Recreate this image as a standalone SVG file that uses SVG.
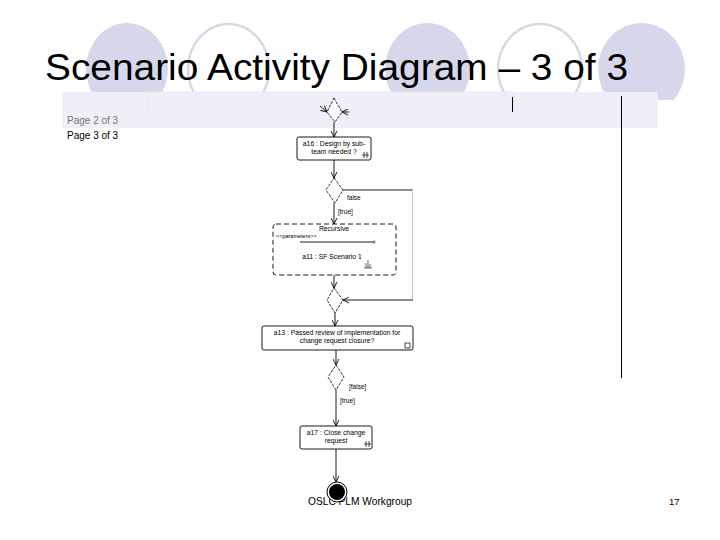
<svg xmlns="http://www.w3.org/2000/svg" width="720" height="540" viewBox="0 0 720 540">
<defs>
<style>
.t{font-family:"Liberation Sans",Arial,sans-serif;fill:#000}
.sm{font-size:6.8px}
.lbl{font-size:6.5px}
.box{fill:#fff;stroke:#000;stroke-width:0.9}
.dia{fill:#fff;stroke:#000;stroke-width:0.8;stroke-dasharray:3 1.2}
.ln{fill:none;stroke:#000;stroke-width:0.9}
</style>
<clipPath id="topclip"><rect x="0" y="0" width="720" height="100"/></clipPath>
<marker id="arr" viewBox="0 0 8 8" refX="7" refY="4" markerWidth="7" markerHeight="7" markerUnits="userSpaceOnUse" orient="auto">
<path d="M0,0.5 L7,4 L0,7.5" fill="none" stroke="#000" stroke-width="1"/>
</marker>
</defs>
<rect width="720" height="540" fill="#fff"/>
<g id="background" clip-path="url(#topclip)">
<ellipse cx="127" cy="69" rx="41" ry="46" fill="#D7D7EC"/>
<ellipse cx="228.5" cy="69" rx="40.5" ry="45" fill="none" stroke="#D9D9E6" stroke-width="2.5"/>
<ellipse cx="427.5" cy="69" rx="42.5" ry="46" fill="#D7D7EC"/>
<ellipse cx="540" cy="69" rx="42" ry="45" fill="none" stroke="#D9D9E6" stroke-width="2.5"/>
<ellipse cx="641.5" cy="69" rx="43.5" ry="46" fill="#D7D7EC"/>
</g>
<text class="t" x="45" y="80" font-size="36" textLength="583" lengthAdjust="spacingAndGlyphs">Scenario Activity Diagram – 3 of 3</text>
<g id="band">
<rect x="62" y="92" width="596" height="36" fill="#EFEFFA"/>
<rect x="147.5" y="92" width="366" height="20" fill="none" stroke="#E7E7F3" stroke-width="1"/>
<line x1="512.5" y1="97" x2="512.5" y2="112" stroke="#000" stroke-width="1"/>
<text class="t" x="67" y="124" font-size="10" style="fill:#777">Page 2 of 3</text>
<text class="t" x="67" y="139" font-size="10">Page 3 of 3</text>
</g>
<line x1="621.5" y1="96" x2="621.5" y2="378" stroke="#000" stroke-width="1"/>
<text class="t" x="308" y="505" font-size="10.2">OSLC PLM Workgroup</text>
<text class="t" x="669" y="505" font-size="9.5">17</text>
<g id="connectors">
<line class="ln" x1="320" y1="106" x2="327" y2="112" marker-end="url(#arr)"/>
<line class="ln" x1="349" y1="112" x2="342" y2="112" marker-end="url(#arr)"/>
<line class="ln" x1="334" y1="122" x2="334" y2="137" marker-end="url(#arr)"/>
<line class="ln" x1="334" y1="160" x2="334" y2="178" marker-end="url(#arr)"/>
<line class="ln" x1="334" y1="203" x2="334" y2="224" marker-end="url(#arr)"/>
<polyline class="ln" points="343,190 413,190"/>
<line x1="412.5" y1="190" x2="412.5" y2="300" stroke="#C4C4C4" stroke-width="1"/>
<line class="ln" x1="413" y1="300" x2="343" y2="300" marker-end="url(#arr)"/>
<line class="ln" x1="334" y1="275" x2="334" y2="288" marker-end="url(#arr)"/>
<line class="ln" x1="335" y1="313" x2="335" y2="326" marker-end="url(#arr)"/>
<line class="ln" x1="336" y1="350" x2="336" y2="365" marker-end="url(#arr)"/>
<line class="ln" x1="336" y1="390" x2="336" y2="426" marker-end="url(#arr)"/>
<line class="ln" x1="336" y1="449" x2="336" y2="482" marker-end="url(#arr)"/>
<text class="t lbl" x="347" y="200">false</text>
<text class="t lbl" x="338" y="214">[true]</text>
<text class="t lbl" x="349" y="389">[false]</text>
<text class="t lbl" x="340" y="403">[true]</text>
</g>
<g id="merge1"><polygon class="dia" points="334,98 342,112 335,122 327,112"/></g>
<g id="a16">
<rect class="box" x="297" y="137" width="74" height="23" rx="2"/>
<text class="t sm" x="334" y="146" text-anchor="middle">a16 : Design by sub-</text>
<text class="t sm" x="334" y="154" text-anchor="middle">team needed ?</text>
<path d="M364,158 V152 M367,158 V152 M362,155 H369" stroke="#000" stroke-width="0.7" fill="none"/>
</g>
<g id="decision1"><polygon class="dia" points="334,178 343,190 335,203 326,190"/></g>
<g id="recursive">
<rect x="273" y="224" width="123" height="51" rx="3" fill="#fff" stroke="#000" stroke-width="0.9" stroke-dasharray="5 3"/>
<text class="t sm" x="334" y="231" text-anchor="middle">Recursive</text>
<text class="t" x="276" y="238" font-size="5.5">&lt;&lt;parameters&gt;&gt;</text>
<line x1="300" y1="242" x2="373" y2="242" stroke="#000" stroke-width="0.9"/>
<circle cx="374" cy="242" r="1.6" fill="#7A7F94"/>
<text class="t sm" x="332" y="259" text-anchor="middle">a11 : SF Scenario 1</text>
<path d="M366,268 V263 M368,268 V260 M370,268 V264 M364,268 H372" stroke="#000" stroke-width="0.6" fill="none"/>
</g>
<g id="merge2"><polygon class="dia" points="334,288 343,300 335,313 327,300"/></g>
<g id="a13">
<rect class="box" x="262" y="326" width="151" height="24" rx="2"/>
<text class="t sm" x="337" y="335" text-anchor="middle">a13 : Passed review of implementation for</text>
<text class="t sm" x="337" y="343" text-anchor="middle">change request closure?</text>
<rect x="405" y="343" width="5" height="5" fill="none" stroke="#000" stroke-width="0.7"/>
</g>
<g id="decision2"><polygon class="dia" points="336,365 344,377 336,390 328,377"/></g>
<g id="a17">
<rect class="box" x="300" y="426" width="72" height="23" rx="2"/>
<text class="t sm" x="336" y="435" text-anchor="middle">a17 : Close change</text>
<text class="t sm" x="336" y="443" text-anchor="middle">request</text>
<path d="M366,447 V441 M369,447 V441 M364,444 H371" stroke="#000" stroke-width="0.7" fill="none"/>
</g>
<g id="final">
<circle cx="337" cy="492" r="10" fill="#fff" stroke="#000" stroke-width="1"/>
<circle cx="337" cy="492" r="8" fill="#000"/>
</g>
</svg>
